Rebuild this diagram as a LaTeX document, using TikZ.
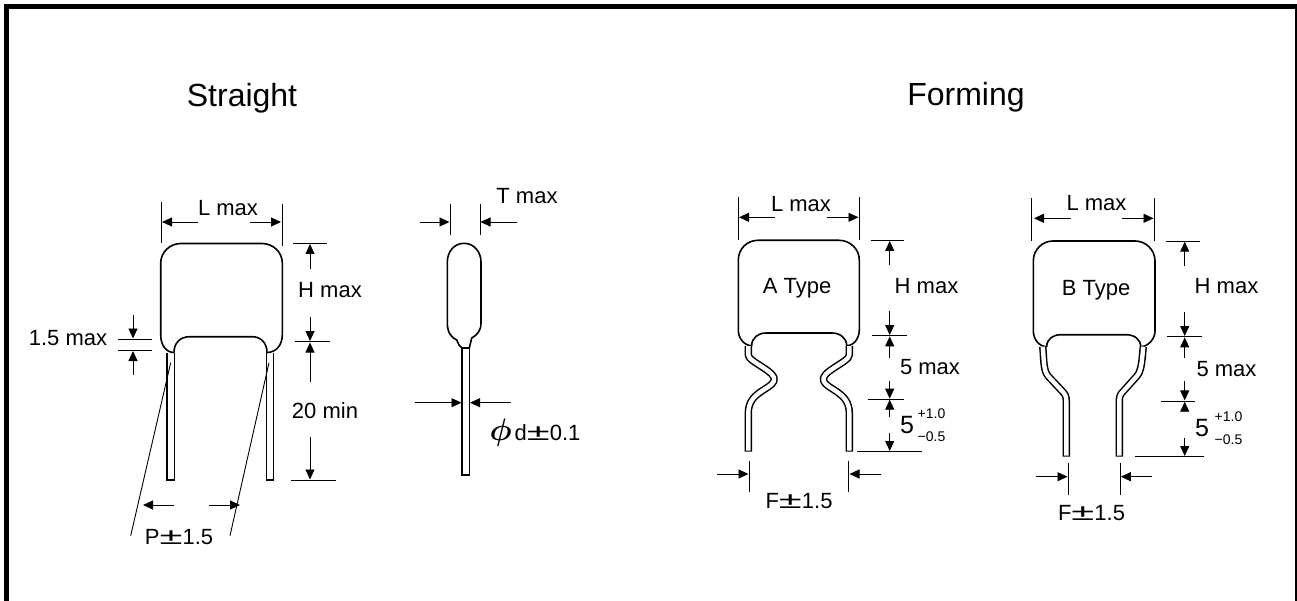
\documentclass[tikz,border=0pt]{standalone}
\usepackage{fontspec}
\setmainfont{Liberation Sans}
\usetikzlibrary{arrows.meta}
\newcommand{\plusminus}{\scalebox{1.9}[1.05]{±}}
\tikzset{
  outline/.style = {line width = 1.6pt},
  wire/.style = {line width = 1.4pt},
  dimline/.style = {line width = .9pt, -{Triangle[length = 10pt, width = 9pt]}},
  extline/.style = {line width = .9pt},
  lbl/.style = {inner sep = 0pt, font = \fontsize{22}{24}\selectfont},
  small/.style = {inner sep = 0pt, font = \fontsize{14}{16}\selectfont},
  big/.style = {inner sep = 0pt, font = \fontsize{25}{28}\selectfont},
  title/.style = {inner sep = 0pt, font = \fontsize{32}{36}\selectfont}
}
\begin{document}
\begin{tikzpicture}[x = 1pt, y = -1pt]
  \useasboundingbox (0,0) rectangle (1297,601);
  % frame
  \draw [line width = 4.8pt] (6.4,601) -- (6.4,6.4) -- (1297.4,6.4) -- (1297.4,601);
  \node [title] (straight) at (242,98.5) {Straight};
  \node [title] (forming) at (966,97) {Forming};
  % straight, front view
  \draw [outline] (174,352.5) .. controls (174,343) and (180,336.7) .. (190,336.7) -- (252,336.7)
    .. controls (261,336.7) and (267,343) .. (267,352.5)
    .. controls (276,352.5) and (282.3,345) .. (282.3,335) -- (282.3,263)
    .. controls (282.3,252) and (273,243.5) .. (262,243.5) -- (181,243.5)
    .. controls (170,243.5) and (160.7,252) .. (160.7,263) -- (160.7,335)
    .. controls (160.7,345) and (166,352.5) .. (174,352.5);
  \draw [wire] (167,352.5) -- (167,480) -- (174.3,480) -- (174.3,352.5);
  \draw [wire] (266.7,352.5) -- (266.7,480) -- (273.7,480) -- (273.7,352.5);
  \draw [extline] (161,202) -- (161,243);
  \draw [extline] (282,204) -- (282,246);
  \draw [dimline] (198,222) -- (162,222);
  \draw [dimline] (250,222) -- (281,222);
  \node [lbl] (lmaxa) at (228,208) {L max};
  \draw [extline] (293,243.7) --++ (34,0);
  \draw [dimline] (310,269) -- (310,244);
  \node [lbl] (hmaxa) at (330,290) {H max};
  \draw [dimline] (310,317) -- (310,341);
  \draw [extline] (295,341.7) --++ (35,0);
  \draw [dimline] (310,382) -- (310,342.5);
  \node [lbl] (minlead) at (325,411) {20 min};
  \draw [dimline] (310,437) -- (310,479.5);
  \draw [extline] (291,480) --++ (45,0);
  \node [lbl] (gap) at (68,338) {1.5 max};
  \draw [extline] (118,339) --++ (34,0);
  \draw [extline] (118,350.7) --++ (34,0);
  \draw [dimline] (133,315) -- (133,338.5);
  \draw [dimline] (133,375) -- (133,351);
  \draw [extline] (170.7,362.7) -- (130.7,535.7);
  \draw [extline] (269,362.7) -- (230,535.7);
  \draw [dimline] (174,505) -- (143,505);
  \draw [dimline] (209,505) -- (240,505);
  \node [lbl] (pitch) at (179,537) {P\plusminus1.5};
  % straight, side view
  \draw [outline] (464,243.3) .. controls (454,243.3) and (447.3,252) .. (447.3,262) -- (447.3,323)
    .. controls (447.3,333) and (452,338) .. (456.7,340) -- (459,345) -- (462,348) -- (469.3,348)
    -- (471.7,338) .. controls (477,335) and (481,331) .. (481,323) -- (481,262)
    .. controls (481,252) and (474,243.3) .. (464,243.3);
  \draw [wire] (462,348) -- (462,475) -- (469.3,475) -- (469.3,348);
  \draw [extline] (450,204) -- (450,235);
  \draw [extline] (480,204) -- (480,235);
  \draw [dimline] (420,222) -- (449.5,222);
  \draw [dimline] (517,222) -- (480.5,222);
  \node [lbl] (tmax) at (527,196) {T max};
  \draw [dimline] (415,402.7) -- (461.5,402.7);
  \draw [dimline] (511,402.7) -- (470,402.7);
  \node [lbl] (dia) at (535,433) {\scalebox{1.5}{\boldmath$\phi$}\hspace{3pt}d\plusminus0.1};
  % forming, A type
  \draw [outline] (751.7,345.7) .. controls (751.7,338) and (758,333) .. (766,333) -- (832,333)
    .. controls (840,333) and (846.7,338) .. (846.7,345.7)
    .. controls (854,345.7) and (859.3,338) .. (859.3,330) -- (859.3,260)
    .. controls (859.3,249) and (850,240.3) .. (839,240.3) -- (758,240.3)
    .. controls (747,240.3) and (738.3,249) .. (738.3,260) -- (738.3,330)
    .. controls (738.3,338) and (744,345.7) .. (751.7,345.7);
  \draw [line width = 7.4pt, line join = round] (748.3,346) -- (748.3,355)
    .. controls (748.3,362) and (778,372) .. (774,381)
    .. controls (770,390) and (748.3,392) .. (748.3,413) -- (748.3,451.7);
  \draw [line width = 4.4pt, white, line join = round] (748.3,346) -- (748.3,355)
    .. controls (748.3,362) and (778,372) .. (774,381)
    .. controls (770,390) and (748.3,392) .. (748.3,413) -- (748.3,450.5);
  \draw [line width = 7.4pt, line join = round] (849.3,346) -- (849.3,355)
    .. controls (849.3,362) and (819.6,372) .. (823.6,381)
    .. controls (827.6,390) and (849.3,392) .. (849.3,413) -- (849.3,451.7);
  \draw [line width = 4.4pt, white, line join = round] (849.3,346) -- (849.3,355)
    .. controls (849.3,362) and (819.6,372) .. (823.6,381)
    .. controls (827.6,390) and (849.3,392) .. (849.3,413) -- (849.3,450.5);
  \node [lbl] (atype) at (797,288) {A Type};
  \draw [extline] (738.3,197) -- (738.3,240);
  \draw [extline] (859.3,197) -- (859.3,240);
  \draw [dimline] (775,217.3) -- (739,217.3);
  \draw [dimline] (827,217.3) -- (858.5,217.3);
  \node [lbl] (lmaxb) at (801,204) {L max};
  \draw [extline] (870.7,240.3) --++ (33.5,0);
  \draw [dimline] (889.7,265) -- (889.7,241);
  \node [lbl] (hmaxb) at (926.5,286) {H max};
  \draw [dimline] (889.7,310.7) -- (889.7,335);
  \draw [extline] (872,335.7) --++ (34.7,0);
  \draw [dimline] (889.7,357.7) -- (889.7,336.4);
  \node [lbl] (fivea) at (930,367) {5 max};
  \draw [dimline] (889.7,381) -- (889.7,398.7);
  \draw [extline] (868,399) --++ (36,0);
  \draw [dimline] (889.7,417) -- (889.7,399.7);
  \node [big] (fiveb) at (907,425) {5};
  \node [small] (plusa) at (931.5,414) {+1.0};
  \node [small] (minusa) at (931.5,437) {−0.5};
  \draw [dimline] (889.7,433) -- (889.7,451);
  \draw [extline] (857,451.7) --++ (64.7,0);
  \draw [extline] (749.3,460.7) -- (749.3,491.7);
  \draw [extline] (848.7,460.7) -- (848.7,491.7);
  \draw [dimline] (717,474) -- (748.5,474);
  \draw [dimline] (881,474) -- (849.5,474);
  \node [lbl] (fita) at (799,501) {F\plusminus1.5};
  % forming, B type
  \draw [outline] (1046.7,346.7) .. controls (1046.7,339) and (1053,334.7) .. (1061,334.7) -- (1126,334.7)
    .. controls (1134,334.7) and (1140.7,339) .. (1140.7,346.7)
    .. controls (1148,346.7) and (1155,339) .. (1155,331) -- (1155,261)
    .. controls (1155,250) and (1146,241) .. (1135,241) -- (1053,241)
    .. controls (1042,241) and (1033.3,250) .. (1033.3,261) -- (1033.3,331)
    .. controls (1033.3,339) and (1039,346.7) .. (1046.7,346.7);
  \draw [line width = 7.4pt, line join = round] (1042.7,346.7) .. controls (1044,358) and (1043,370) .. (1048,376)
    -- (1062,391) .. controls (1065,394) and (1066.3,396) .. (1066.3,401) -- (1066.3,456.7);
  \draw [line width = 4.4pt, white, line join = round] (1042.7,346.7) .. controls (1044,358) and (1043,370) .. (1048,376)
    -- (1062,391) .. controls (1065,394) and (1066.3,396) .. (1066.3,401) -- (1066.3,455.5);
  \draw [line width = 7.4pt, line join = round] (1143.3,346.7) .. controls (1142,358) and (1142,370) .. (1137,376)
    -- (1123.5,391) .. controls (1120.5,394) and (1119.3,396) .. (1119.3,401) -- (1119.3,456.7);
  \draw [line width = 4.4pt, white, line join = round] (1143.3,346.7) .. controls (1142,358) and (1142,370) .. (1137,376)
    -- (1123.5,391) .. controls (1120.5,394) and (1119.3,396) .. (1119.3,401) -- (1119.3,455.5);
  \node [lbl] (btype) at (1096,290) {B Type};
  \draw [extline] (1031.7,198) -- (1031.7,241);
  \draw [extline] (1154.3,198) -- (1154.3,241);
  \draw [dimline] (1070.7,218.3) -- (1034,218.3);
  \draw [dimline] (1122,218.3) -- (1153.5,218.3);
  \node [lbl] (lmaxc) at (1096.5,203) {L max};
  \draw [extline] (1165.7,241) --++ (34.3,0);
  \draw [dimline] (1184.7,266) -- (1184.7,241.7);
  \node [lbl] (hmaxc) at (1226.5,286) {H max};
  \draw [dimline] (1184.7,312) -- (1184.7,336);
  \draw [extline] (1167,336.7) --++ (35,0);
  \draw [dimline] (1184.7,357.7) -- (1184.7,337.4);
  \node [lbl] (fivec) at (1226.5,369) {5 max};
  \draw [dimline] (1184.7,381) -- (1184.7,400.4);
  \draw [extline] (1161,401) --++ (34,0);
  \draw [dimline] (1184.7,410) -- (1184.7,401.7);
  \node [big] (fived) at (1202,428) {5};
  \node [small] (plusb) at (1228.5,417) {+1.0};
  \node [small] (minusb) at (1228.5,440) {−0.5};
  \draw [dimline] (1184.7,438) -- (1184.7,456);
  \draw [extline] (1135,456.5) --++ (69,0);
  \draw [extline] (1068.3,463) -- (1068.3,495);
  \draw [extline] (1120,463) -- (1120,495);
  \draw [dimline] (1036,476.7) -- (1067.5,476.7);
  \draw [dimline] (1152,476.7) -- (1120.8,476.7);
  \node [lbl] (fitb) at (1091.5,513) {F\plusminus1.5};
\end{tikzpicture}
\end{document}
